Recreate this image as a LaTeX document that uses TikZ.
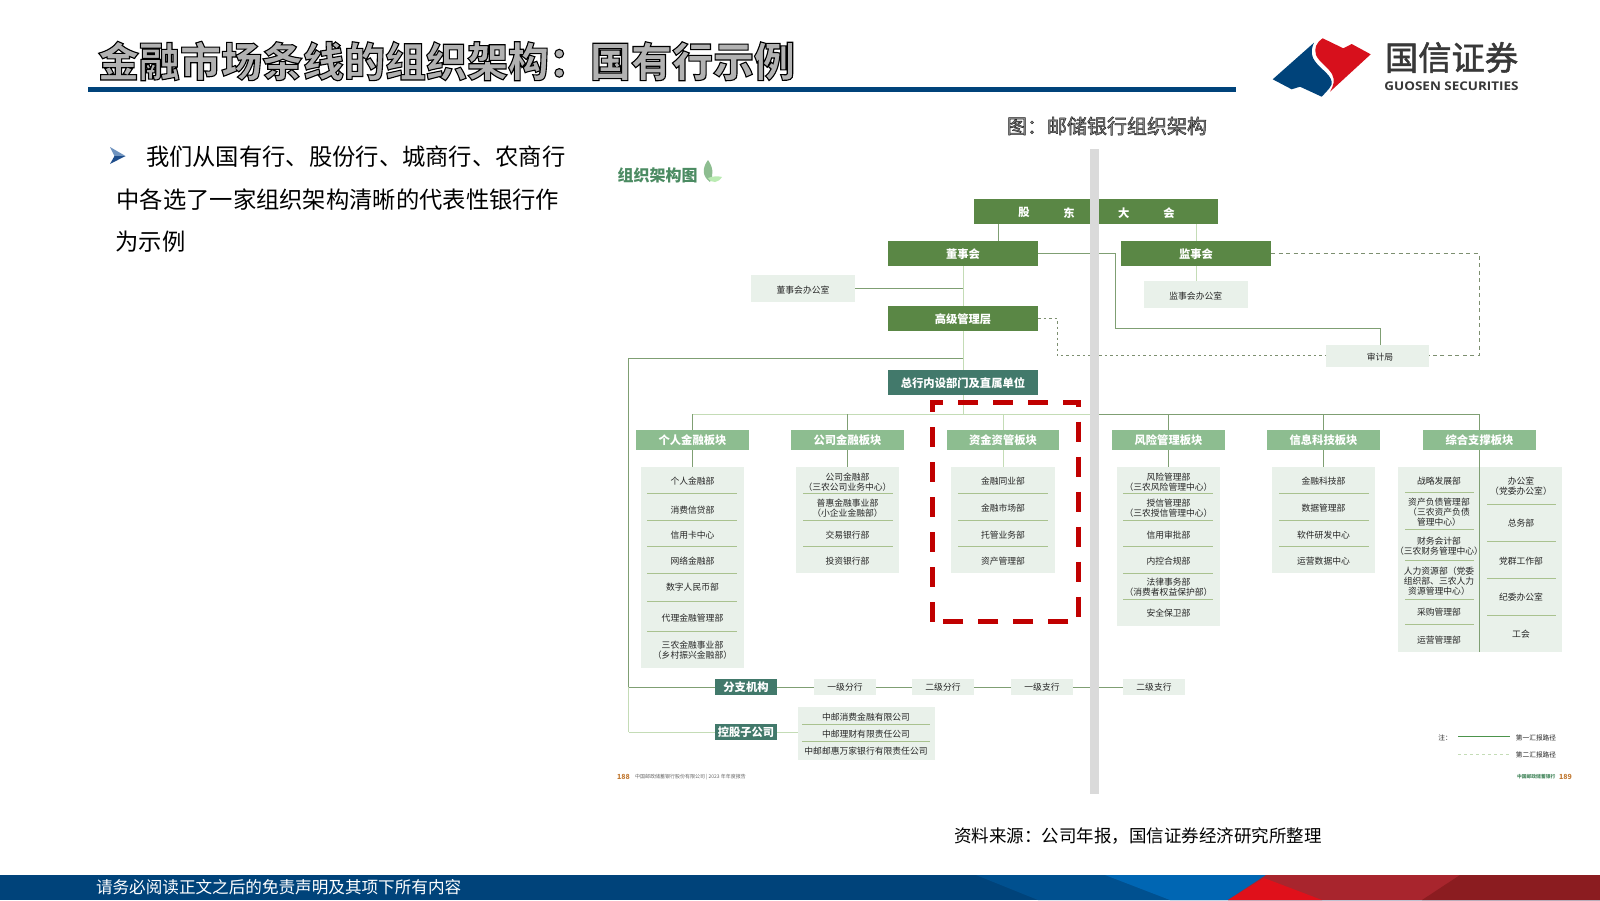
\documentclass[tikz,border=0pt]{standalone}
\usepackage{fontspec}
\setmainfont{Noto Sans CJK SC}
\newfontfamily\latinbold{Open Sans}
\usetikzlibrary{backgrounds}
\definecolor{hgreen}{HTML}{5A8745}
\definecolor{sgreen}{HTML}{8DBD90}
\definecolor{pale}{HTML}{E9F1EA}
\definecolor{teal2}{HTML}{42796B}
\definecolor{lnd}{HTML}{7F9F73}
\definecolor{lnp}{HTML}{C4DCB6}
\definecolor{dashc}{HTML}{7D8F70}
\definecolor{navy}{HTML}{00437A}
\definecolor{barc}{HTML}{DADADA}
\definecolor{redd}{HTML}{C00000}
\definecolor{txtc}{HTML}{262626}
\definecolor{divc}{HTML}{A9C28F}
\definecolor{bandb}{HTML}{00508F}
\definecolor{bandc}{HTML}{0066B3}
\definecolor{bandd}{HTML}{A8252D}
\definecolor{bande}{HTML}{E0101A}
\definecolor{bandf}{HTML}{8B1C20}
\definecolor{logored}{HTML}{D7101C}
\definecolor{ctgreen}{HTML}{4B8B62}
\definecolor{arrowlt}{HTML}{6F93BF}
\definecolor{arrowdk}{HTML}{1F4E8C}
\tikzset{
  x=1pt,y=-1pt,
  every node/.style={inner sep=0pt,outer sep=0pt},
  hbox/.style={fill=hgreen,text=white,font=\fontsize{11.3}{13}\selectfont\bfseries,text height=9.7pt,text depth=0pt},
  sbox/.style={fill=sgreen,text=white,font=\fontsize{11.3}{13}\selectfont\bfseries,text height=9.7pt,text depth=0pt},
  tbox/.style={fill=teal2,text=white,font=\fontsize{11.3}{13}\selectfont\bfseries,text height=9.7pt,text depth=0pt},
  pbox/.style={fill=pale,text=txtc,font=\fontsize{8.8}{10.3}\selectfont,align=center,text height=7.3pt,text depth=0pt},
  lst/.style={text=txtc,font=\fontsize{8.8}{10.3}\selectfont,align=center,yshift=-0.8pt},
  lnk/.style={draw=lnd,line width=0.8pt},
  lnkp/.style={draw=lnp,line width=0.8pt},
  dlnk/.style={draw=dashc,line width=0.9pt,dash pattern=on 4pt off 3.5pt},
  sep/.style={draw=divc,line width=0.7pt},
}
\newcommand\bx[7]{%
  \pgfmathsetmacro\bw{#5-#3}\pgfmathsetmacro\bh{#6-#4}%
  \pgfmathsetmacro\bcx{(#3+#5)/2}\pgfmathsetmacro\bcy{(#4+#6)/2}%
  \node[#2,minimum width=\bw pt,minimum height=\bh pt] (#1) at (\bcx,\bcy) {#7};}
\begin{document}
\begin{tikzpicture}
\useasboundingbox (0,0) rectangle (1600,900);
\begin{pgfonlayer}{background}\fill[white] (0,0) rectangle (1600,900);\end{pgfonlayer}

% header
\node[text=black!30,font=\fontsize{41}{45}\selectfont\bfseries,anchor=west] (title) at (98,61)
  {\special{pdf:code 2 Tr 1.1 w 0 0 0 RG}金融市场条线的组织架构：国有行示例\special{pdf:code 0 Tr 1 w}};
\fill[navy] (88,87) rectangle (1236,92);

% logo
\fill[navy] (1314,42.7) -- (1272.7,79.3) -- (1291.7,89.3) -- (1300,86.7) -- (1321.7,96.7)
  .. controls (1328,90) and (1333,85) .. (1331.7,81.7)
  .. controls (1330,73) and (1318,68) .. (1313,58)
  .. controls (1310.5,52) and (1312,47) .. (1314,42.7) -- cycle;
\fill[logored] (1322.7,38.3) -- (1343.3,48.3) -- (1351.7,44) -- (1370.7,54.3) -- (1330,91.7)
  .. controls (1334,85) and (1335,80) .. (1332,74)
  .. controls (1327,66) and (1319,62) .. (1316,55)
  .. controls (1314,48) and (1316,43) .. (1322.7,38.3) -- cycle;
\node[text=black!78,font=\fontsize{33.3}{36}\selectfont,anchor=center] (lg1) at (1451.5,57.5)
  {\special{pdf:code 2 Tr 0.5 w 0.22 0.22 0.22 RG}国信证券\special{pdf:code 0 Tr 1 w}};
\node[text=black!78,font=\fontsize{12}{13}\latinbold\bfseries,anchor=center] (lg2) at (1451.5,86.6)
  {\scalebox{1.12}[1]{GUOSEN SECURITIES}};

% left text
\fill[arrowlt] (110,147) -- (125.5,156) -- (114.5,156) -- cycle;
\fill[arrowdk] (125.5,156) -- (110,164) -- (114.5,156) -- cycle;
\node[font=\fontsize{23.3}{26}\selectfont,anchor=west] (b1) at (146,157) {我们从国有行、股份行、城商行、农商行};
\node[font=\fontsize{23.3}{26}\selectfont,anchor=west] (b2) at (116.5,199.3) {中各选了一家组织架构清晰的代表性银行作};
\node[font=\fontsize{23.3}{26}\selectfont,anchor=west] (b3) at (115.5,241.2) {为示例};

% caption
\node[text=black!45,font=\fontsize{20}{22}\selectfont,anchor=west] (cap) at (1007,126)
  {\special{pdf:code 2 Tr 0.5 w 0.15 0.15 0.15 RG}图：邮储银行组织架构\special{pdf:code 0 Tr 1 w}};
\node[font=\fontsize{17.5}{20}\selectfont,anchor=west] (src) at (954,836) {资料来源：公司年报，国信证券经济研究所整理};

% chart title
\node[text=ctgreen,font=\fontsize{16}{18}\selectfont\bfseries,anchor=west] (ct) at (617.5,175) {组织架构图};
\fill[sgreen] (708,160) .. controls (702,168) and (702,176) .. (710,182) .. controls (714,175) and (713,167) .. (708,160) -- cycle;
\fill[lnp!80!green!70!white] (708,178) .. controls (713,176) and (718,176) .. (722,177) .. controls (718,183) and (712,184) .. (708,178) -- cycle;

% top boxes
\bx{gd}{hbox}{974}{199.3}{1218}{224}{}
\node[text=white,font=\fontsize{11.3}{13}\selectfont\bfseries] (g1) at (1024,212.7) {股};
\node[text=white,font=\fontsize{11.3}{13}\selectfont\bfseries] (g2) at (1069,212.7) {东};
\node[text=white,font=\fontsize{11.3}{13}\selectfont\bfseries] (g3) at (1123.7,212.7) {大};
\node[text=white,font=\fontsize{11.3}{13}\selectfont\bfseries] (g4) at (1169,212.7) {会};
\bx{ds}{hbox}{888}{241}{1038}{266}{董事会}
\bx{js}{hbox}{1121}{241}{1271}{266}{监事会}
\bx{dso}{pbox,text height=9.5pt}{751}{275}{855}{302}{董事会办公室}
\bx{jso}{pbox,text height=9.5pt}{1144}{281}{1247.5}{308}{监事会办公室}
\bx{gj}{hbox}{888}{306}{1038}{331}{高级管理层}
\bx{sj}{fill=pale}{1326}{345}{1429}{367}{}
\node[lst] (sjt) at (1380,356.5) {审计局};
\bx{zh}{tbox}{888}{370}{1038}{395}{总行内设部门及直属单位}

% sector headers
\bx{s1}{sbox}{636}{430}{749}{450}{个人金融板块}
\bx{s2}{sbox}{791}{430}{904}{450}{公司金融板块}
\bx{s3}{sbox}{947}{430}{1059}{450}{资金资管板块}
\bx{s4}{sbox}{1112}{430}{1225}{450}{风险管理板块}
\bx{s5}{sbox}{1267}{430}{1380}{450}{信息科技板块}
\bx{s6}{sbox}{1423}{430}{1536}{450}{综合支撑板块}

% list panels
\bx{l1}{fill=pale}{641}{467}{744}{667.7}{}
\bx{l2}{fill=pale}{796}{467}{899}{573.3}{}
\bx{l3}{fill=pale}{951}{467}{1055}{573.3}{}
\bx{l4}{fill=pale}{1117}{467}{1220}{626}{}
\bx{l5}{fill=pale}{1272}{467}{1375}{573.3}{}
\bx{l6}{fill=pale}{1398}{467}{1562}{652.3}{}

% dividers
\foreach \y in {493.7,520,546.3,573.3,601.3,631.3} \draw[sep] (647,\y) -- (737,\y);
\foreach \y in {493.7,520,546.3} {\draw[sep] (803,\y) -- (893,\y); \draw[sep] (958,\y) -- (1048,\y); \draw[sep] (1279,\y) -- (1369,\y);}
\foreach \y in {493.7,520.3,546.3,573.3,599.7} \draw[sep] (1123,\y) -- (1213,\y);
\foreach \y in {492,529,560,599.3,624.3} \draw[sep] (1405,\y) -- (1474,\y);
\foreach \y in {504.3,541.3,578.3,615.3} \draw[sep] (1487,\y) -- (1556,\y);

% list text
\node[lst] (a1) at (692.5,480.7) {个人金融部};
\node[lst] (a2) at (692.5,509) {消费信贷部};
\node[lst] (a3) at (692.5,534.3) {信用卡中心};
\node[lst] (a4) at (692.5,560.3) {网络金融部};
\node[lst] (a5) at (692.5,586) {数字人民币部};
\node[lst] (a6) at (692.5,617.3) {代理金融管理部};
\node[lst] (a7) at (692.5,649.3) {三农金融事业部\\（乡村振兴金融部）};

\node[lst] (c1) at (847.5,481.2) {公司金融部\\（三农公司业务中心）};
\node[lst] (c2) at (847.5,507.2) {普惠金融事业部\\（小企业金融部）};
\node[lst] (c3) at (847.5,534.3) {交易银行部};
\node[lst] (c4) at (847.5,560.3) {投资银行部};

\node[lst] (f1) at (1003,480.7) {金融同业部};
\node[lst] (f2) at (1003,507) {金融市场部};
\node[lst] (f3) at (1003,534.3) {托管业务部};
\node[lst] (f4) at (1003,560.3) {资产管理部};

\node[lst] (r1) at (1168.5,481.2) {风险管理部\\（三农风险管理中心）};
\node[lst] (r2) at (1168.5,507.2) {授信管理部\\（三农授信管理中心）};
\node[lst] (r3) at (1168.5,534.3) {信用审批部};
\node[lst] (r4) at (1168.5,560.3) {内控合规部};
\node[lst] (r5) at (1168.5,586.5) {法律事务部\\（消费者权益保护部）};
\node[lst] (r6) at (1168.5,612.7) {安全保卫部};

\node[lst] (i1) at (1323.5,480.7) {金融科技部};
\node[lst] (i2) at (1323.5,507) {数据管理部};
\node[lst] (i3) at (1323.5,534.3) {软件研发中心};
\node[lst] (i4) at (1323.5,560.3) {运营数据中心};

\node[lst] (m1) at (1439,480.7) {战略发展部};
\node[lst] (m2) at (1439,511.3) {资产负债管理部\\（三农资产负债\\管理中心）};
\node[lst] (m3) at (1439,545.2) {财务会计部\\（三农财务管理中心）};
\node[lst] (m4) at (1439,580.2) {人力资源部（党委\\组织部、三农人力\\资源管理中心）};
\node[lst] (m5) at (1439,611.7) {采购管理部};
\node[lst] (m6) at (1439,639.3) {运营管理部};

\node[lst] (n1) at (1521,485.7) {办公室\\（党委办公室）};
\node[lst] (n2) at (1521,522.7) {总务部};
\node[lst] (n3) at (1521,560.7) {党群工作部};
\node[lst] (n4) at (1521,596.3) {纪委办公室};
\node[lst] (n5) at (1521,633.7) {工会};

% branch
\bx{fz}{tbox}{715}{679}{777}{695}{分支机构}
\bx{kg}{tbox}{715}{724}{777}{740}{控股子公司}
\bx{b1x}{pbox}{814}{679}{876}{695}{一级分行}
\bx{b2x}{pbox}{912}{679}{974}{695}{二级分行}
\bx{b3x}{pbox}{1011}{679}{1073}{695}{一级支行}
\bx{b4x}{pbox}{1123}{679}{1185}{695}{二级支行}
\bx{sub}{fill=pale}{798}{707}{935}{760}{}
\foreach \y in {724.3,741.3} \draw[sep] (802,\y) -- (930,\y);
\node[lst] (k1) at (866,716.7) {中邮消费金融有限公司};
\node[lst] (k2) at (866,733.3) {中邮理财有限责任公司};
\node[lst] (k3) at (866,750.7) {中邮邮惠万家银行有限责任公司};

% legend
\coordinate (lg1a) at (1458,736.7); \coordinate (lg1b) at (1510,736.7);
\coordinate (lg2a) at (1458,754); \coordinate (lg2b) at (1510,754);
\draw[draw=black!60!green!70,line width=0.7pt] (lg1a) -- (lg1b);
\draw[draw=lnp,line width=0.7pt,dash pattern=on 3pt off 3pt] (lg2a) -- (lg2b);
\node[lst,font=\fontsize{6.7}{8}\selectfont] (z0) at (1445,736.7) {注：};
\node[lst,font=\fontsize{6.7}{8}\selectfont] (z1) at (1536,736.7) {第一汇报路径};
\node[lst,font=\fontsize{6.7}{8}\selectfont] (z2) at (1536,754) {第二汇报路径};

% page footer of image
\node[text=orange!70!black!80,font=\fontsize{7}{8}\selectfont\bfseries,anchor=west] (p1) at (617,776.7) {188};
\node[text=black!60,font=\fontsize{5}{6}\selectfont,anchor=west] (p2) at (635,776.7) {中国邮政储蓄银行股份有限公司 | 2023 年年度报告};
\node[text=ctgreen,font=\fontsize{4.8}{6}\selectfont\bfseries,anchor=west] (p3) at (1517,776.7) {中国邮政储蓄银行};
\node[text=orange!70!black!80,font=\fontsize{7}{8}\selectfont\bfseries,anchor=west] (p4) at (1559,776.7) {189};

% connectors
\begin{pgfonlayer}{background}
\coordinate (hub) at (692.5,414.3);
\coordinate (hubm) at (1090,414.3);
\coordinate (tr1) at (1115.6,328.3);
\coordinate (tr2) at (1380,328.3);
\coordinate (lm) at (628.7,358.7);
\coordinate (dj) at (1479,355.7);
\coordinate (dg) at (1057,355.7);
\coordinate (lb1) at (628.7,687);
\coordinate (lb2) at (628.7,732);
\coordinate (gx) at (998,0);
\coordinate (y288) at (0,288);
\coordinate (y318) at (0,318);
\draw[lnk] (gd.south -| gx) -- (ds.north -| gx);
\draw[lnkp] (gd.south -| js.north) -- (js.north);
\draw[lnk] (ds.east) -- (ds.east -| tr1) -- (tr1) -- (tr2) -- (tr2 |- sj.north);
\draw[lnkp] (js.south) -- (jso.north -| js.south);
\draw[lnkp] (ds.south) -- (ds.south |- hub);
\draw[lnk] (dso.east |- y288) -- (ds.south |- y288);
\draw[lnk] (lm -| ds.south) -- (lm) -- (lb1);
\draw[lnkp] (lb1) -- (lb2);
\draw[lnk] (lb1) -- (fz.west);
\draw[lnkp] (lb2) -- (kg.west);
\draw[lnk] (fz.east) -- (b4x.west);
\draw[lnkp] (kg.east) -- (sub.west |- kg.east);
\draw[dlnk] (js.east) -- (js.east -| dj) -- (dj) -- (sj.east |- dj);
\draw[dlnk,dash pattern=on 2.5pt off 3pt] (gj.east |- y318) -- (dg |- y318) -- (dg) -- (sj.west |- dg);
\draw[lnkp] (s1.north |- hub) -- (hubm);
\draw[lnk] (hubm) -- (s6.north |- hub);
\foreach \s/\l in {s1/l1,s2/l2,s4/l4,s5/l5,s6/l6} {
  \draw[lnk] (\s.north |- hub) -- (\s.north);
  \draw[lnk] (\s.south) -- (\l.north -| \s.south);
}
\draw[lnkp] (s3.north |- hub) -- (s3.north);
\draw[lnkp] (s3.south) -- (l3.north);
\end{pgfonlayer}
\draw[lnk] (s6.south) -- (s6.south |- l6.south);

% centre bar
\fill[barc] (1090,149) rectangle (1099,794);

% red dashed frame
\coordinate (rb1) at (932.7,621.7); \coordinate (rb2) at (932.7,402);
\coordinate (rb3) at (1078.3,402); \coordinate (rb4) at (1078.3,621.7);
\draw[redd,line width=5pt,dash pattern=on 20pt off 15pt] (rb1) -- (rb2) -- (rb3) -- (rb4) -- cycle;

% bottom band
\fill[navy] (0,875) rectangle (1600,900);
\fill[bandb] (976,875) -- (1600,875) -- (1600,900) -- (1038,900) -- cycle;
\fill[bandc] (1105,875) -- (1600,875) -- (1600,900) -- (1170,900) -- cycle;
\fill[bandd] (1266,875) -- (1600,875) -- (1600,900) -- (1228,900) -- cycle;
\fill[bande] (1228,900) -- (1264,878) -- (1322,900) -- cycle;
\fill[bandf] (1460,875) -- (1600,875) -- (1600,900) -- (1422,900) -- cycle;
\node[text=white,font=\fontsize{16.6}{18}\selectfont,anchor=west] (foot) at (96,887) {请务必阅读正文之后的免责声明及其项下所有内容};
\end{tikzpicture}
\end{document}
